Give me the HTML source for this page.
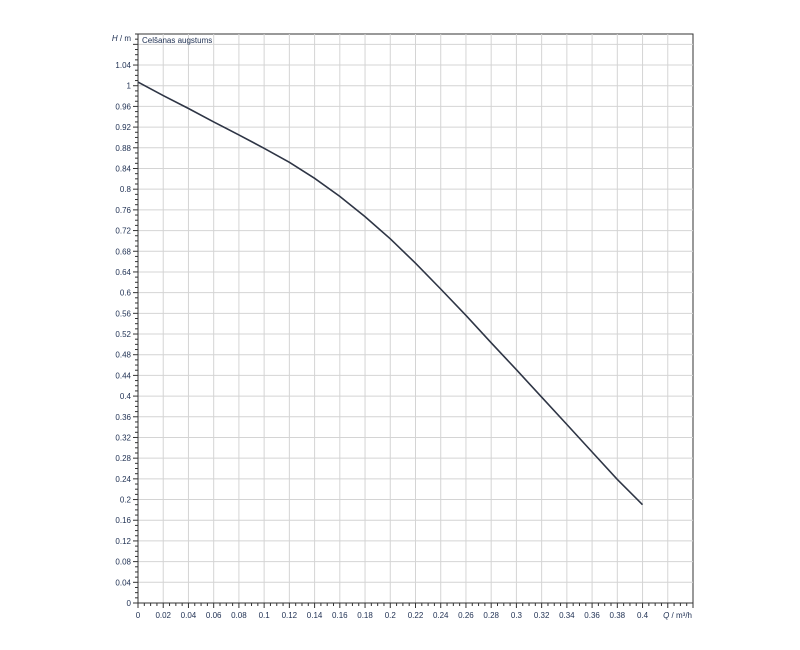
<!DOCTYPE html>
<html><head><meta charset="utf-8"><style>
html,body{margin:0;padding:0;background:#fff;}
svg{display:block;font-family:"Liberation Sans",sans-serif;}
</style></head><body>
<svg id="c" width="800" height="650" xmlns="http://www.w3.org/2000/svg"></svg>
<script>
var s=document.getElementById('c'),h='';
var L=138,R=693,T=34,B=603;
function X(v){return L+v/0.44*(R-L);}
function Y(v){return B-v/1.1*(B-T);}
h+='<rect x="'+L+'" y="'+T+'" width="'+(R-L)+'" height="'+(B-T)+'" fill="#fff" stroke="#333" stroke-width="1"/>';
for(var i=1;i<22;i++){var x=X(i*0.02);h+='<line x1="'+x+'" y1="'+T+'" x2="'+x+'" y2="'+B+'" stroke="#d4d4d4"/>';}
for(var j=1;j<=27;j++){var y=Y(j*0.04);h+='<line x1="'+L+'" y1="'+y+'" x2="'+R+'" y2="'+y+'" stroke="#d4d4d4"/>';}
// minor ticks
for(var i=0;i<=88;i++){var x=X(i*0.005);var len=(i%4==0)?5:3;h+='<line x1="'+x+'" y1="'+B+'" x2="'+x+'" y2="'+(B+len)+'" stroke="#333"/>';}
for(var j=0;j<=110;j++){var y=Y(j*0.01);var len=(j%4==0)?5:3;h+='<line x1="'+(L-len)+'" y1="'+y+'" x2="'+L+'" y2="'+y+'" stroke="#333"/>';}
h+='<line x1="'+L+'" y1="'+T+'" x2="'+L+'" y2="'+B+'" stroke="#333"/>';
h+='<line x1="'+L+'" y1="'+B+'" x2="'+R+'" y2="'+B+'" stroke="#333"/>';
function f(v){return (+v.toFixed(2)).toString();}
for(var i=0;i<=20;i++){h+='<text x="'+X(i*0.02)+'" y="618" font-size="8" fill="#223355" text-anchor="middle">'+f(i*0.02)+'</text>';}
h+='<text x="692" y="618" font-size="8" fill="#223355" text-anchor="end"><tspan font-style="italic">Q</tspan> / m³/h</text>';
for(var j=0;j<=26;j++){h+='<text x="131" y="'+(Y(j*0.04)+3)+'" font-size="8" fill="#223355" text-anchor="end">'+f(j*0.04)+'</text>';}
h+='<text x="131" y="41" font-size="8" fill="#223355" text-anchor="end"><tspan font-style="italic">H</tspan> / m</text>';
h+='<text x="142" y="43" font-size="8" fill="#223355">Celšanas augstums</text>';
var p=[[0,1.007],[0.02,0.981],[0.04,0.956],[0.06,0.93],[0.08,0.905],[0.1,0.879],[0.12,0.852],[0.14,0.821],[0.16,0.786],[0.18,0.747],[0.2,0.704],[0.22,0.657],[0.24,0.607],[0.26,0.556],[0.28,0.503],[0.3,0.451],[0.32,0.398],[0.34,0.345],[0.36,0.292],[0.38,0.239],[0.4,0.19]];
var d=p.map(function(q,k){return (k?'L':'M')+X(q[0]).toFixed(1)+' '+Y(q[1]).toFixed(1);}).join(' ');
h+='<path d="'+d+'" fill="none" stroke="#2e3545" stroke-width="1.6"/>';
s.innerHTML=h;
</script>
</body></html>
